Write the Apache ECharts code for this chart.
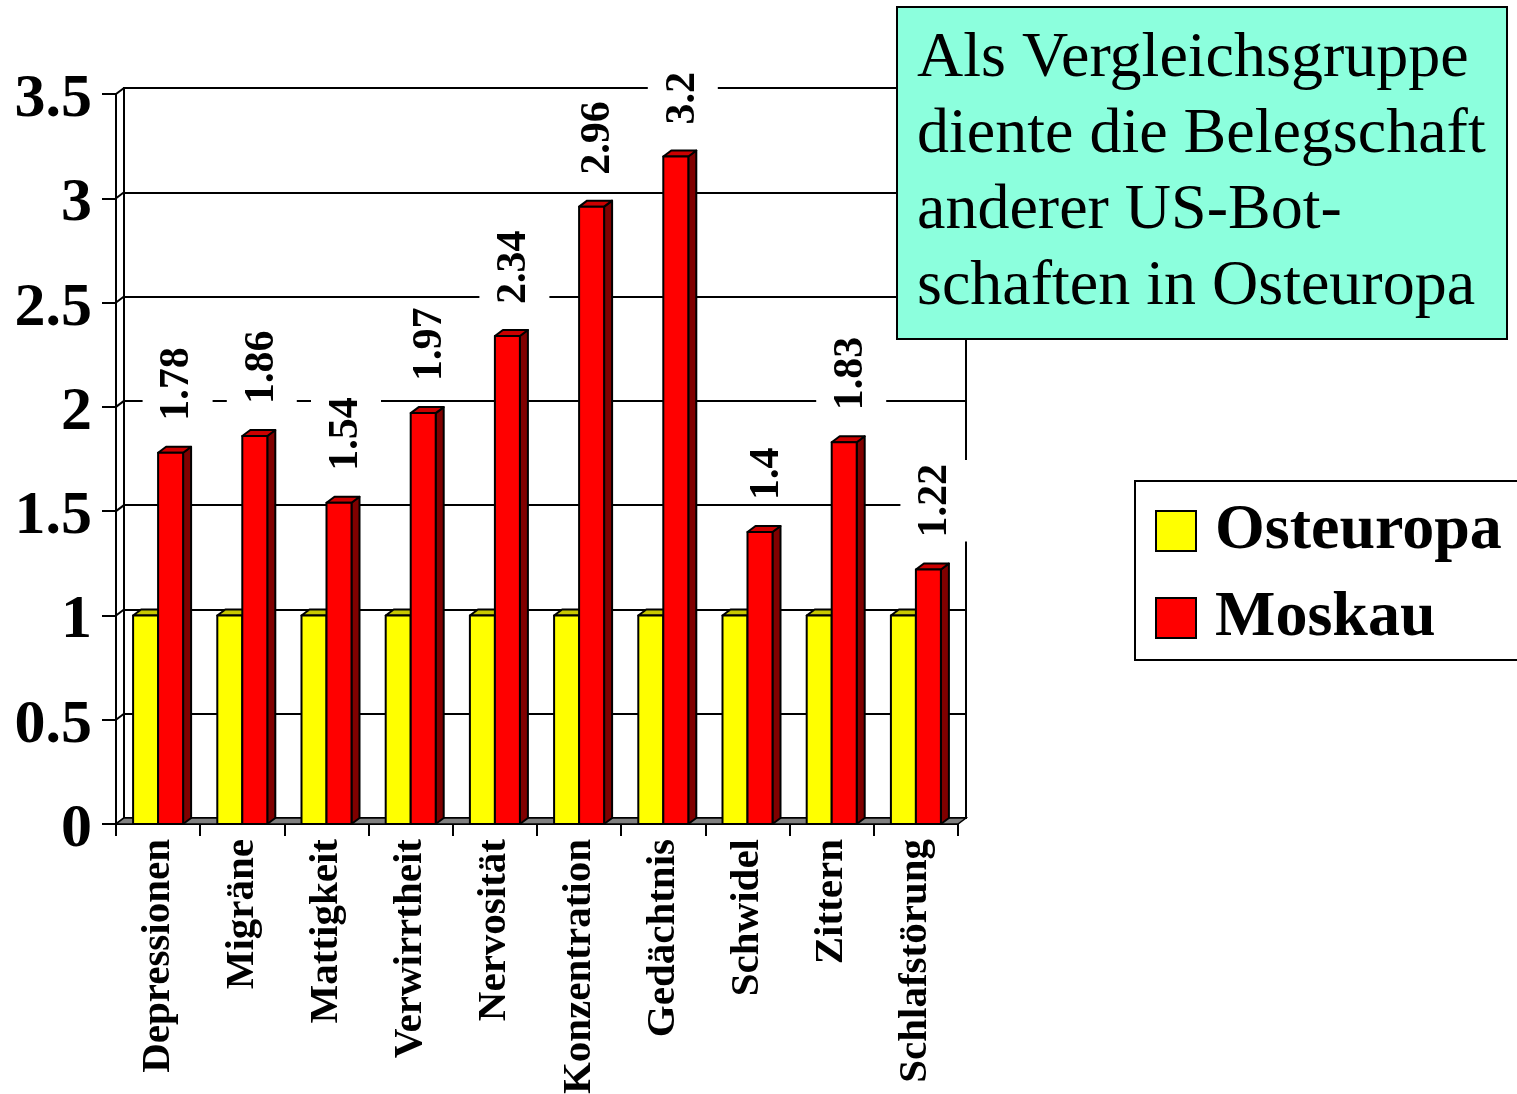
<!DOCTYPE html>
<html>
<head>
<meta charset="utf-8">
<title>Vergleich Osteuropa / Moskau</title>
<script src="https://cdn.jsdelivr.net/npm/echarts@6.0.0/dist/echarts.min.js"></script>
<style>
  html, body { margin: 0; padding: 0; background: #fff; }
  #chart { width: 1517px; height: 1094px; }
</style>
</head>
<body>
<div id="chart"></div>
<script>
// data
const categories = ['Depressionen', 'Migräne', 'Mattigkeit', 'Verwirrtheit', 'Nervosität',
  'Konzentration', 'Gedächtnis', 'Schwidel', 'Zittern', 'Schlafstörung'];
const osteuropa = [1, 1, 1, 1, 1, 1, 1, 1, 1, 1];
const moskau = [1.78, 1.86, 1.54, 1.97, 2.34, 2.96, 3.2, 1.4, 1.83, 1.22];
const yTicks = { min: 0, max: 3.5, interval: 0.5 };
const noteText = ['Als Vergleichsgruppe', 'diente die Belegschaft', 'anderer US-Bot-', 'schaften in Osteuropa'];

const SERIF = '"Liberation Serif", "Times New Roman", serif';
const BAR_W = 25;
// fake 3d depth
const DX = 8, DY = -6;

// one bar as front + top + side face, placed through the axis scales
let makeBar = (side, front, topCol, sideCol, withLabel) => (params, api) => {
  let cat = api.value(0), val = api.value(1);
  let top = api.coord([cat, val]);
  let base = api.coord([cat, 0]);
  let x0 = side === 0 ? top[0] - BAR_W : top[0];
  let x1 = x0 + BAR_W;
  let y0 = top[1], y1 = base[1];
  let stroke = { stroke: '#000', lineWidth: 2, lineJoin: 'round' };
  let children = [
    { type: 'polygon', shape: { points: [[x1, y0], [x1 + DX, y0 + DY], [x1 + DX, y1 + DY], [x1, y1]] },
      style: Object.assign({ fill: sideCol }, stroke) },
    { type: 'polygon', shape: { points: [[x0, y0], [x0 + DX, y0 + DY], [x1 + DX, y0 + DY], [x1, y0]] },
      style: Object.assign({ fill: topCol }, stroke) },
    { type: 'rect', shape: { x: x0, y: y0, width: BAR_W, height: y1 - y0 },
      style: Object.assign({ fill: front }, stroke) }
  ];
  if (withLabel) {
    children.push({
      type: 'text',
      x: (x0 + x1) / 2 + 7,
      y: y0 - 28,
      rotation: Math.PI / 2,
      z2: 50,
      style: {
        text: String(val),
        fontFamily: SERIF, fontSize: 42, fontWeight: 'bold',
        fill: '#000', align: 'left', verticalAlign: 'middle',
        backgroundColor: '#fff', padding: [14, 4, 14, 4]
      }
    });
  }
  return { type: 'group', children: children };
};

// grey floor under the bars
let renderFloor = (params, api) => {
  let bw = api.size([1, 0])[0];
  let a = api.coord([0, 0]), b = api.coord([categories.length - 1, 0]);
  let xl = a[0] - bw / 2, xr = b[0] + bw / 2, y = a[1];
  return {
    type: 'polygon',
    shape: { points: [[xl, y], [xl + DX, y + DY], [xr + DX, y + DY], [xr, y]] },
    style: { fill: '#808080', stroke: '#000', lineWidth: 1.5 }
  };
};

// little slanted joins between the front axis ticks and the back wall
let renderJoins = (params, api) => {
  let y = api.coord([0, api.value(1)])[1];
  let bw = api.size([1, 0])[0];
  let x = api.coord([0, 0])[0] - bw / 2;
  return {
    type: 'line',
    shape: { x1: x, y1: y, x2: x + DX, y2: y + DY },
    style: { stroke: '#000', lineWidth: 2 }
  };
};

let chartInstance = echarts.init(document.getElementById('chart'), null, { renderer: 'canvas' });

let tickValues = [];
for (let v = yTicks.min; v <= yTicks.max + 1e-9; v += yTicks.interval) tickValues.push([0, v]);

const option = {
  backgroundColor: '#fff',
  animation: false,
  textStyle: { fontFamily: SERIF },
  title: {
    text: noteText.join('\n'),
    left: 897, top: 7,
    padding: [14, 22, 14, 20],
    backgroundColor: '#8cffdd',
    borderColor: '#000', borderWidth: 2,
    textStyle: { fontFamily: SERIF, fontSize: 64, fontWeight: 'normal', color: '#000', lineHeight: 76 }
  },
  legend: {
    orient: 'vertical',
    left: 1135, top: 481,
    padding: [18, 20, 10, 20],
    itemWidth: 40, itemHeight: 40, itemGap: 23,
    icon: 'rect',
    borderColor: '#000', borderWidth: 2,
    backgroundColor: '#fff',
    textStyle: { fontFamily: SERIF, fontSize: 64, lineHeight: 64, fontWeight: 'bold', color: '#000', padding: [0, 0, 0, 14] },
    data: ['Osteuropa', 'Moskau']
  },
  grid: [
    // front plane: axes, ticks, bars
    { left: 116, top: 94, width: 842, height: 730, outerBoundsMode: 'none', containLabel: false },
    // back wall: gridlines and frame
    { left: 124, top: 88, width: 842, height: 730, outerBoundsMode: 'none', show: true, borderColor: '#000', borderWidth: 2, z: 0 }
  ],
  xAxis: [
    {
      gridIndex: 0, type: 'category', data: categories,
      axisLine: { lineStyle: { color: '#000', width: 2 } },
      axisTick: { show: true, length: 12, lineStyle: { color: '#000', width: 2 } },
      axisLabel: { rotate: 90, margin: 15, color: '#000', fontFamily: SERIF, fontSize: 41, fontWeight: 'bold', interval: 0 }
    },
    {
      gridIndex: 1, type: 'category', data: categories,
      axisLine: { show: false }, axisTick: { show: false }, axisLabel: { show: false }
    }
  ],
  yAxis: [
    {
      gridIndex: 0, type: 'value', min: yTicks.min, max: yTicks.max, interval: yTicks.interval,
      axisLine: { show: true, lineStyle: { color: '#000', width: 2 } },
      axisTick: { show: true, length: 14, lineStyle: { color: '#000', width: 2 } },
      splitLine: { show: false },
      axisLabel: {
        margin: 24, color: '#000', fontFamily: SERIF, fontSize: 62, fontWeight: 'bold',
        verticalAlign: 'top', padding: [-25, 0, 0, 0]
      }
    },
    {
      gridIndex: 1, type: 'value', min: yTicks.min, max: yTicks.max, interval: yTicks.interval,
      axisLine: { show: false }, axisTick: { show: false }, axisLabel: { show: false },
      splitLine: { show: true, lineStyle: { color: '#000', width: 2 } }
    }
  ],
  series: [
    {
      name: 'joins', type: 'custom', xAxisIndex: 0, yAxisIndex: 0,
      data: tickValues, renderItem: renderJoins, silent: true, z: 1
    },
    {
      name: 'floor', type: 'custom', xAxisIndex: 0, yAxisIndex: 0,
      data: [[0, 0]], renderItem: renderFloor, silent: true, z: 1
    },
    {
      name: 'Osteuropa', type: 'custom', xAxisIndex: 0, yAxisIndex: 0,
      itemStyle: { color: '#ffff00', borderColor: '#000', borderWidth: 2 },
      encode: { x: 0, y: 1 },
      data: osteuropa.map((v, i) => [i, v]),
      renderItem: makeBar(0, '#ffff00', '#c8c800', '#808000', false),
      z: 2
    },
    {
      name: 'Moskau', type: 'custom', xAxisIndex: 0, yAxisIndex: 0,
      itemStyle: { color: '#ff0000', borderColor: '#000', borderWidth: 2 },
      encode: { x: 0, y: 1 },
      data: moskau.map((v, i) => [i, v]),
      renderItem: makeBar(1, '#ff0000', '#cc0000', '#800000', true),
      z: 3
    }
  ]
};

chartInstance.setOption(option);
</script>
</body>
</html>
